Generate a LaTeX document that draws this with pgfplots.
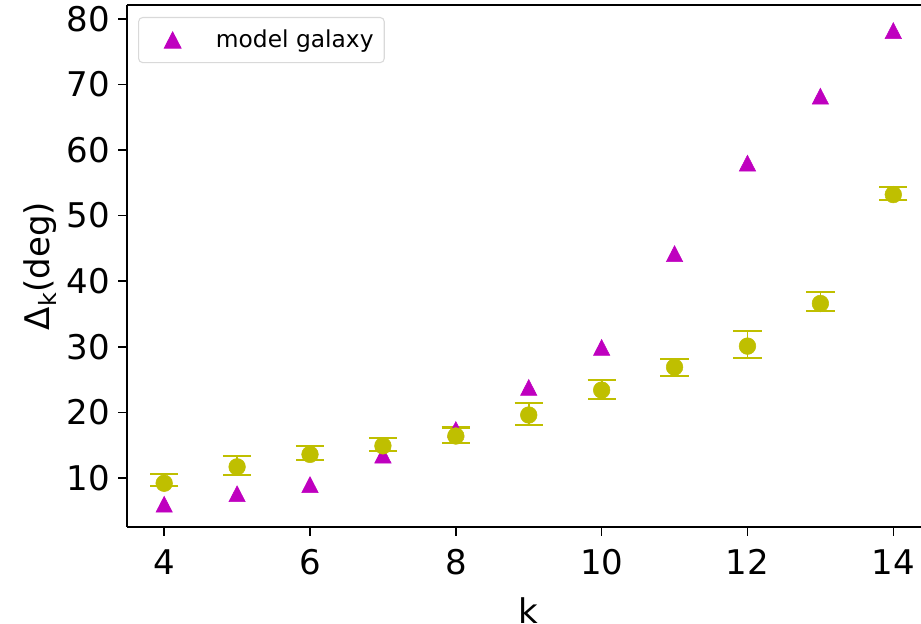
\documentclass[border=0pt]{standalone}
\usepackage{fontspec}
\setmainfont{DejaVu Sans}
\usepackage{pgfplots}
\pgfplotsset{compat=1.18}
\usepackage{pgfplotstable}

\definecolor{mplmagenta}{rgb}{0.75,0,0.75}
\definecolor{mplyellow}{rgb}{0.75,0.75,0}

% measured angles with asymmetric uncertainties
\pgfplotstableread{
k   d     ep    em
4   9.2   1.4   0.4
5   11.7  1.6   1.3
6   13.6  1.3   0.9
7   14.9  1.2   0.8
8   16.4  1.3   1.0
9   19.6  1.8   1.5
10  23.4  1.5   1.4
11  26.9  1.25  1.4
12  30.1  2.3   1.85
13  36.6  1.8   1.2
14  53.2  1.1   0.8
}\measured

% model galaxy
\pgfplotstableread{
k   d
4   6.0
5   7.6
6   9.0
7   13.5
8   17.4
9   23.8
10  29.9
11  44.2
12  58.0
13  68.2
14  78.2
}\model

\begin{document}
\begin{tikzpicture}
\begin{axis}[
  scale only axis,
  width=595.5pt, height=391.5pt,
  xmin=3.49, xmax=14.38,
  ymin=2.53, ymax=82.1,
  axis x line*=bottom, axis y line*=left,
  axis line style={line width=1.9pt, black},
  xtick={4,6,8,10,12,14},
  ytick={10,20,...,80},
  tick align=outside,
  major tick length=6.5pt,
  every tick/.style={black, line width=1.1pt},
  /pgf/number format/assume math mode=true,
  tick label style={font=\fontsize{25.5}{30}\selectfont},
  xticklabel style={inner sep=0pt, yshift=-10pt},
  yticklabel style={inner sep=0pt, xshift=-6pt},
  xlabel={k},
  ylabel={Δ\textsubscript{k}(deg)},
  label style={font=\fontsize{25.5}{30}\selectfont},
  xlabel style={at={(axis description cs:0.505,0)}, anchor=center, yshift=-62.5pt},
  ylabel style={at={(axis description cs:-0.1096,0.5)}, anchor=center, rotate=0},
  legend style={at={(axis description cs:0.014,0.977)}, anchor=north west,
    font=\fontsize{17.5}{21}\selectfont, draw=black!15, line width=0.8pt,
    rounded corners=3pt, inner xsep=6pt, inner ysep=7.5pt,
    cells={anchor=west}},
  legend image code/.code={%
    \path[draw=none, fill=none] (0pt,-5pt) rectangle (50pt,5pt);
    \path[#1] plot coordinates {(19.5pt,0pt)};},
  clip=false,
]
\addplot[only marks, mplmagenta, mark=triangle*,
  mark options={mplmagenta, mark size=7.1pt, yscale=1.12, yshift=-1.8pt}]
  table[x=k, y=d] {\model};
\addlegendentry{model galaxy}
\addplot[only marks, mplyellow, mark=*,
  mark options={mplyellow, mark size=6.25pt},
  error bars/.cd, y dir=both, y explicit,
  error bar style={mplyellow, line width=1.3pt},
  error mark options={mplyellow, rotate=90, mark size=10.6pt, line width=1.6pt}]
  table[x=k, y=d, y error plus=ep, y error minus=em] {\measured};
\coordinate (SW) at (rel axis cs:0,0);
\coordinate (NE) at (rel axis cs:1,1);
\draw[line width=1.9pt, black] (rel axis cs:0,1) -- (rel axis cs:1,1);
\end{axis}
\pgfresetboundingbox
\path ([shift={(-95.25pt,-72.75pt)}]SW) rectangle ([shift={(0pt,3.75pt)}]NE);
\end{tikzpicture}
\end{document}
